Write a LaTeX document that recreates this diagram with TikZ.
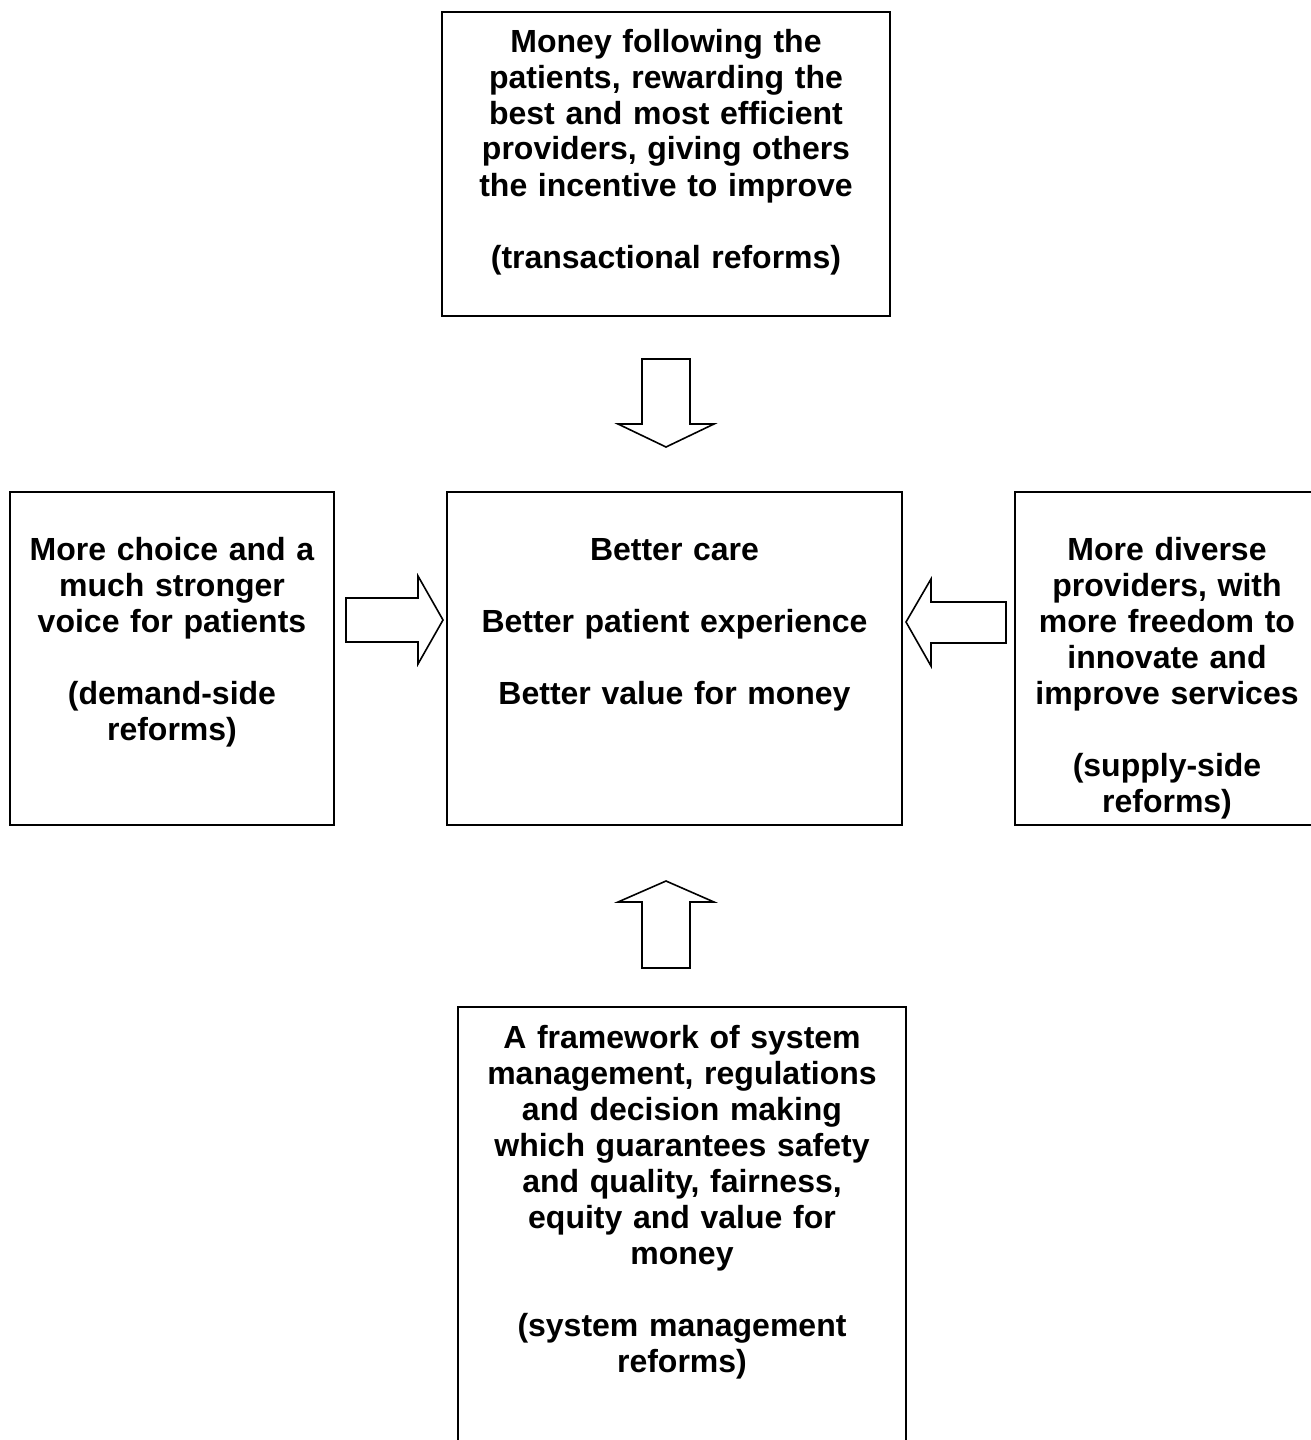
\documentclass[tikz,border=0pt]{standalone}
\usepackage{fontspec}
\setmainfont{Liberation Sans}
\begin{document}
\begin{tikzpicture}[x=0.5pt,y=-0.5pt,
  box/.style={draw,line width=1pt,inner sep=0pt,outer sep=0pt},
  txt/.style={anchor=base,align=center,text width=300pt,inner sep=0pt,
    font=\fontsize{16pt}{18pt}\selectfont\bfseries},
  blockarrow/.style={draw,line width=0.8pt,line join=miter,fill=white}]
\useasboundingbox (0,0) rectangle (1311,1440);
\clip (0,0) rectangle (1311,1440);
% boxes
\node[box,minimum width=224pt,minimum height=152pt] (top) at (666,164) {};
\node[box,minimum width=162pt,minimum height=166.5pt] (left) at (172,658.5) {};
\node[box,minimum width=227.5pt,minimum height=166.5pt] (mid) at (674.5,658.5) {};
\node[box,minimum width=152pt,minimum height=166.5pt] (right) at (1167,658.5) {};
\node[box,minimum width=224pt,minimum height=226.5pt] (bot) at (682,1233.5) {};
% texts
\node[txt] (toptxt) at (666,52) {Money following the\\patients, rewarding the\\best and most efficient\\providers, giving others\\the incentive to improve\\[18pt](transactional reforms)};
\node[txt] (midtxt) at (674.5,560) {Better care\\[18pt]Better patient experience\\[18pt]Better value for money};
\node[txt] (lefttxt) at (172,560) {More choice and a\\much stronger\\voice for patients\\[18pt](demand-side\\reforms)};
\node[txt] (righttxt) at (1167,560) {More diverse\\providers, with\\more freedom to\\innovate and\\improve services\\[18pt](supply-side\\reforms)};
\node[txt] (bottxt) at (682,1048) {A framework of system\\management, regulations\\and decision making\\which guarantees safety\\and quality, fairness,\\equity and value for\\money\\[18pt](system management\\reforms)};
% block arrows
\draw[blockarrow] (642,359) -- (690,359) -- (690,424) -- (714,424) -- (666,447) -- (618,424) -- (642,424) -- cycle;
\draw[blockarrow] (346,598) -- (418,598) -- (418,576) -- (443,620) -- (418,664) -- (418,642) -- (346,642) -- cycle;
\draw[blockarrow] (1006,602) -- (931,602) -- (931,579) -- (906,622) -- (931,666) -- (931,643) -- (1006,643) -- cycle;
\draw[blockarrow] (642,968) -- (690,968) -- (690,902) -- (714,902) -- (666,881) -- (618,902) -- (642,902) -- cycle;
\end{tikzpicture}
\end{document}
